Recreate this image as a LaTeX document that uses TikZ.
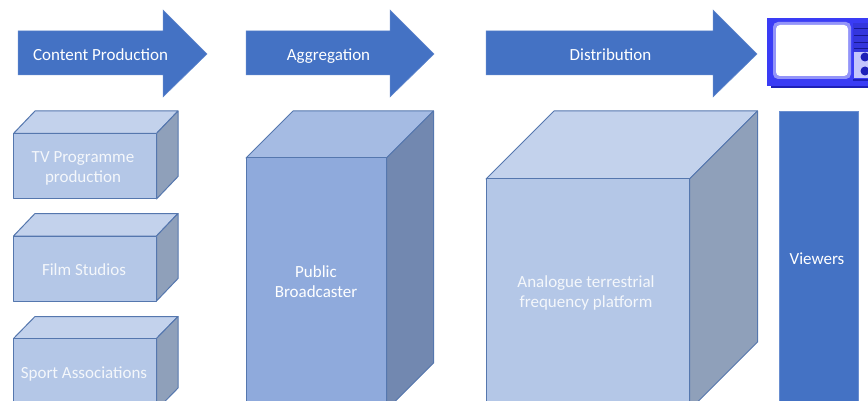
\documentclass[tikz,border=0pt]{standalone}
\usepackage{fontspec}
\setmainfont{Carlito}
\definecolor{arrowblue}{HTML}{4472C4}
\definecolor{edgeblue}{HTML}{5577AE}
\definecolor{lf}{HTML}{B4C7E7}\definecolor{lt}{HTML}{C3D2EC}\definecolor{ls}{HTML}{8FA0BA}
\definecolor{mf}{HTML}{8FAADC}\definecolor{mt}{HTML}{A5BBE3}\definecolor{ms}{HTML}{7288B0}
\definecolor{tvblue}{HTML}{3A3CF5}\definecolor{tvdark}{HTML}{1E20B8}
\tikzset{
  lbl/.style={font=\fontsize{17}{20}\selectfont,text=white,align=center,inner sep=0pt},
  onelbl/.style={lbl,text height=11pt,text depth=3.5pt},
  faintlbl/.style={lbl,text=white!85!lf},
  faintone/.style={onelbl,text=white!85!lf},
  arrowshape/.style={fill=arrowblue,draw=arrowblue!85!white,line width=.5pt},
  cubeedge/.style={draw=edgeblue,line width=1pt,line join=round}
}
\newcommand{\mycube}[6]{%
  \fill[#6t,cubeedge] (#1,#3) -- (#1+#5,#2) -- (#4+#5,#2) -- (#4,#3) -- cycle;
  \fill[#6s,cubeedge] (#4,#3) -- (#4+#5,#2) -- (#4+#5,\cubeh-#3+#2) -- (#4,\cubeh) -- cycle;
  \fill[#6f,cubeedge] (#1,#3) rectangle (#4,\cubeh);
}
\newcommand{\myarrow}[2]{%
  \fill[arrowshape] (#1,31) -- (#2-44,31) -- (#2-44,10) -- (#2,54) -- (#2-44,97) -- (#2-44,75) -- (#1,75) -- cycle;
}
\begin{document}
\begin{tikzpicture}[x=1pt,y=-1pt]
\useasboundingbox (0,0) rectangle (868,401);
\fill[white] (0,0) rectangle (868,401);
\begin{scope}
\clip (0,0) rectangle (868,401);
\myarrow{18}{207}
\myarrow{246}{434}
\myarrow{486}{757}
\def\cubeh{199}\mycube{13.5}{111}{133.5}{156.5}{21.5}{l}
\def\cubeh{301}\mycube{13.5}{213.5}{236}{156.5}{21.5}{l}
\def\cubeh{410}\mycube{13.5}{316.5}{338.5}{156.5}{21.5}{l}
\def\cubeh{410}\mycube{246}{111}{158}{386.5}{47}{m}
\def\cubeh{410}\mycube{486}{111}{179}{689.5}{68}{l}
\fill[arrowblue,draw=arrowblue!80!white,line width=.5pt] (779.5,111) rectangle (858,410);
% television
\fill[tvdark] (771,86) rectangle (868,88.5);
\fill[tvblue] (767,18) rectangle (868,86);
\fill[white!45!tvblue,rounded corners=5pt] (773,22) rectangle (851,79);
\fill[white,rounded corners=4pt] (776,25) rectangle (848,76);
\fill[tvblue!90!black] (853,23) rectangle (868,52);
\foreach \ty in {28,35,42,48}{\fill[tvdark!80!black] (854,\ty) rectangle (868,\ty+1.5);}
\fill[white!70!tvblue] (854,52) rectangle (868,78);
\fill[tvdark] (865,57) circle (4.5);
\fill[tvdark] (865,71) circle (4.5);
\fill[tvdark] (853,79) rectangle (868,81);
\end{scope}
\node[onelbl] (n1) at (100.5,56.5) {Content Production};
\node[onelbl] (n2) at (328.5,56.5) {Aggregation};
\node[onelbl] (n3) at (610.5,56.5) {Distribution};
\node[faintlbl] (n4) at (83,168) {TV Programme\\production};
\node[faintone] (n5) at (84,272) {Film Studios};
\node[faintone] (n6) at (84,374.5) {Sport Associations};
\node[lbl] (n7) at (316,282) {Public\\Broadcaster};
\node[faintlbl] (n8) at (586,293) {Analogue terrestrial\\frequency platform};
\node[onelbl] (n9) at (817,260.5) {Viewers};
\end{tikzpicture}
\end{document}
